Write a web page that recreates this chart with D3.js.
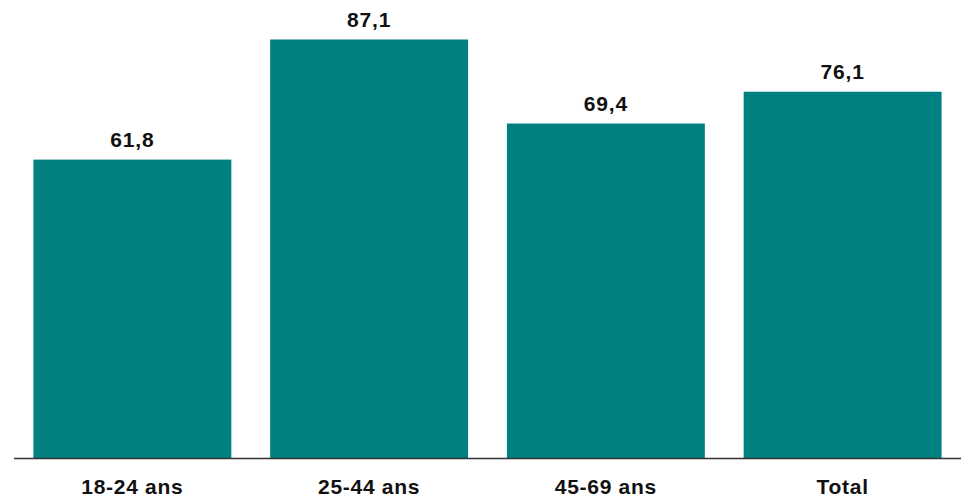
<!DOCTYPE html>
<html>
<head>
<meta charset="utf-8">
<script src="https://cdn.jsdelivr.net/npm/d3@7"></script>
<style>
html,body{margin:0;padding:0;background:#fff;}
svg{display:block;}
</style>
</head>
<body>
<svg id="chart" width="961" height="498"></svg>
<script>
const categories = ["18-24 ans", "25-44 ans", "45-69 ans", "Total"];
const values = [61.8, 87.1, 69.4, 76.1];
const valueLabels = ["61,8", "87,1", "69,4", "76,1"];

const svg = d3.select("#chart");
const baseline = 458;
const x = d3.scaleBand().domain(categories).range([14, 961]).paddingInner(0.164).paddingOuter(0.082);
const y = d3.scaleLinear().domain([0, 87.1]).range([453, 39.5]);

svg.selectAll("rect.bar").data(values).join("rect")
  .attr("class","bar")
  .attr("x",(d,i)=>x(categories[i]))
  .attr("width",x.bandwidth())
  .attr("y",d=>y(d))
  .attr("height",d=>baseline-y(d))
  .attr("fill","#008080");

svg.selectAll("text.val").data(values).join("text")
  .attr("class","val")
  .attr("x",(d,i)=>x(categories[i])+x.bandwidth()/2)
  .attr("y",d=>y(d)-13)
  .attr("text-anchor","middle")
  .attr("font-family","Liberation Sans, Arial, sans-serif")
  .attr("font-weight","bold")
  .attr("font-size","21px")
  .attr("letter-spacing","0.8px")
  .attr("fill","#111")
  .text((d,i)=>valueLabels[i]);

const axis = d3.axisBottom(x).tickSize(0).tickPadding(21.5);
const g = svg.append("g").attr("transform",`translate(0,${baseline})`).call(axis);
g.select(".domain").attr("stroke","#333").attr("stroke-width",1.5).attr("d","M14,0.5H961");
g.selectAll("text")
  .attr("font-family","Liberation Sans, Arial, sans-serif")
  .attr("font-weight","bold")
  .attr("font-size","21px")
  .attr("letter-spacing","0.7px")
  .attr("fill","#111");
</script>
</body>
</html>
